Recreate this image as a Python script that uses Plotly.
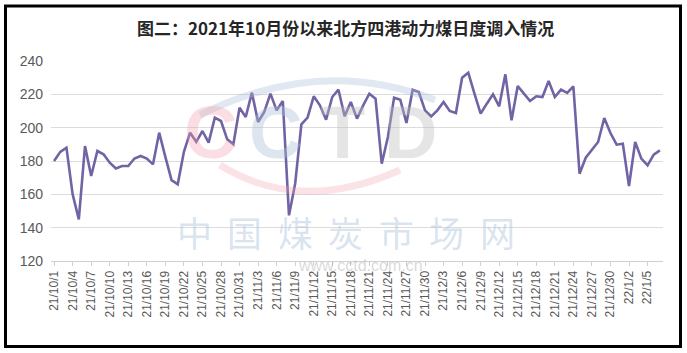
import pandas as pd
import plotly.graph_objects as go

# ---- data ----
dates = pd.date_range("2021-10-01", "2022-01-07", freq="D")
date_labels = [f"{d.year % 100}/{d.month}/{d.day}" for d in dates]

values = [
    180, 185.5, 188, 160, 145, 189, 171, 186, 184, 179,
    175.5, 177, 177, 181.5, 183, 181.5, 178, 197, 182.5, 168.5,
    166, 185.5, 197, 191.5, 198, 191, 206, 204, 193, 190,
    212, 206.4, 221, 203.4, 209.4, 220.4, 210.4, 216, 147.4, 166.4,
    202, 206, 218.8, 213.4, 204.8, 218.4, 222.8, 206.8, 215.4, 205.4,
    213.4, 220.4, 217.4, 178.4, 194.4, 218, 216.8, 202.8, 222.8, 221.4,
    210.4, 206.8, 210.4, 215.4, 210, 208.8, 230, 233, 220.4, 208.4,
    214.4, 220, 212.8, 232, 204.4, 225, 220.4, 216, 218.8, 218.4,
    228, 218.4, 222.8, 220.8, 224.8, 172.4, 182, 186.4, 191.4, 205.8,
    196.8, 189.8, 190.4, 165, 191.4, 181.4, 177.4, 183.8, 186.4,
]

y_ticks = [120, 140, 160, 180, 200, 220, 240]
title_text = "图二：2021年10月份以来北方四港动力煤日度调入情况"
wm_chars = list("中国煤炭市场网")
wm_url = "www.cctd.com.cn"
wm_logo = ["C", "C", "T", "D"]

# ---- layout helpers ----
W, H = 687, 353
L, R, T, B = 51, 24, 61, 92
PW, PH = W - L - R, H - T - B


def px(x):
    return (x - L) / PW


def py(y):
    return 1 - (y - T) / PH


xs = list(range(len(values)))
tick_idx = xs[::3]

fig = go.Figure()
fig.add_trace(go.Scatter(
    x=xs, y=values, mode="lines",
    line=dict(color="#7263A4", width=2.6),
    hoverinfo="skip", showlegend=False,
))

annotations = []
# watermark text: 中国煤炭市场网
wm_centers = [194, 244.5, 295, 345.5, 396, 446.5, 497]
for ch, cx in zip(wm_chars, wm_centers):
    annotations.append(dict(
        x=px(cx), y=py(231), xref="paper", yref="paper", text=ch,
        showarrow=False, xanchor="center", yanchor="middle",
        font=dict(family="Noto Sans CJK SC", size=35, color="rgba(170,195,220,0.45)"),
    ))
annotations.append(dict(
    x=px(360), y=py(265), xref="paper", yref="paper", text=wm_url,
    showarrow=False, xanchor="center", yanchor="middle",
    font=dict(family="Liberation Sans", size=16, color="rgba(170,170,170,0.45)"),
))
logo_cols = ["rgba(240,160,175,0.35)", "rgba(170,190,215,0.4)",
             "rgba(190,190,190,0.4)", "rgba(190,190,190,0.4)"]
logo_x = [210, 275, 342, 410]
for ch, cx, col in zip(wm_logo, logo_x, logo_cols):
    annotations.append(dict(
        x=px(cx), y=py(132), xref="paper", yref="paper", text=f"<b>{ch}</b>",
        showarrow=False, xanchor="center", yanchor="middle",
        font=dict(family="Liberation Sans", size=74, color=col),
    ))
# title
annotations.append(dict(
    x=px(345), y=py(27), xref="paper", yref="paper",
    text=f"<b>{title_text}</b>", showarrow=False,
    xanchor="center", yanchor="middle",
    font=dict(family="Noto Sans CJK SC", size=17, color="#262626"),
))

shapes = [
    dict(type="rect", xref="paper", yref="paper",
         x0=px(5.5), x1=px(680.5), y0=py(346.5), y1=py(6),
         line=dict(color="black", width=3), fillcolor="rgba(0,0,0,0)", layer="above"),
    # logo arcs (approximate)
    dict(type="path", xref="paper", yref="paper",
         path=f"M {px(200)},{py(115)} Q {px(320)},{py(55)} {px(435)},{py(100)}",
         line=dict(color="rgba(170,190,215,0.35)", width=7)),
    dict(type="path", xref="paper", yref="paper",
         path=f"M {px(220)},{py(165)} Q {px(300)},{py(215)} {px(400)},{py(170)}",
         line=dict(color="rgba(240,160,175,0.3)", width=7)),
]

fig.update_layout(
    width=W, height=H,
    margin=dict(l=L, r=R, t=T, b=B, pad=0),
    paper_bgcolor="white", plot_bgcolor="white",
    showlegend=False,
    annotations=annotations,
    shapes=shapes,
    xaxis=dict(
        range=[-0.5, len(values) - 0.5],
        tickmode="array", tickvals=tick_idx,
        ticktext=[date_labels[i] for i in tick_idx],
        tickangle=-90,
        tickfont=dict(family="Liberation Sans", size=12, color="#595959"),
        showgrid=False, zeroline=False,
        showline=True, linecolor="#d0d0d0", linewidth=1,
        ticks="outside", ticklen=4, tickcolor="#d0d0d0",
        fixedrange=True,
    ),
    yaxis=dict(
        range=[120, 240],
        tickmode="array", tickvals=y_ticks,
        tickfont=dict(family="Liberation Sans", size=14, color="#595959"),
        showgrid=True, gridcolor="#dcdcdc", gridwidth=1,
        zeroline=False, showline=False, ticks="",
        ticklabelstandoff=7,
        fixedrange=True,
    ),
)

fig.write_html("out.html", config={"displayModeBar": False})
